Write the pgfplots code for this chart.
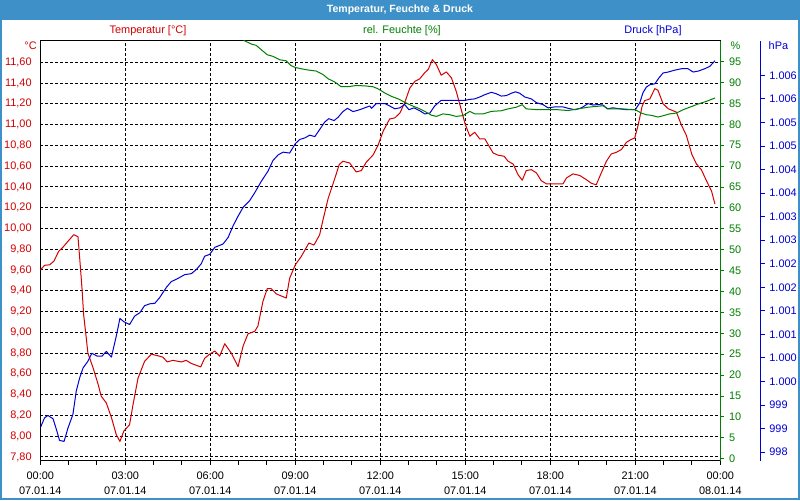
\documentclass[border=0pt]{standalone}
\usepackage{fontspec}
\setmainfont{Liberation Sans}
\usepackage{pgfplots}
\pgfplotsset{compat=1.18}

\definecolor{bar}{RGB}{61,145,200}
\definecolor{tred}{RGB}{210,0,0}
\definecolor{hgreen}{RGB}{0,128,0}
\definecolor{pblue}{RGB}{0,0,215}
\newcommand\lf{\fontsize{8.2}{11.25}\selectfont}

\pgfplotsset{
  base/.style={
    at={(30.225pt,29.475pt)}, anchor=south west,
    width=510pt, height=314.8pt, scale only axis,
    xmin=0, xmax=24,
    every axis plot/.append style={line width=0.75pt, mark=none, line join=round},
    /pgf/number format/assume math mode=true,
  },
  gridline/.style={black, line width=0.75pt, dash pattern=on 2.25pt off 1.5pt},
}

\begin{document}
\begin{tikzpicture}
\path[use as bounding box] (0,0) rectangle (600pt,375pt);
\fill[white] (0,0) rectangle (600pt,375pt);
\fill[bar] (0,360pt) rectangle (600pt,375pt);
\draw[bar, line width=1.5pt] (0.75pt,0.75pt) rectangle (599.25pt,374.25pt);
\node[white, font=\fontsize{7.9}{10}\selectfont\bfseries] at (300pt,367.5pt) {Temperatur, Feuchte \& Druck};

% temperature, grid and time axis
\begin{axis}[base,
  ymin=7.764, ymax=11.805,
  ytick={7.8,8,8.2,8.4,8.6,8.8,9,9.2,9.4,9.6,9.8,10,10.2,10.4,10.6,10.8,11,11.2,11.4,11.6},
  xtick={0,3,...,24},
  minor xtick={1,2,4,5,7,8,10,11,13,14,16,17,19,20,22,23},
  xticklabels={{00:00\\07.01.14},{03:00\\07.01.14},{06:00\\07.01.14},{09:00\\07.01.14},{12:00\\07.01.14},{15:00\\07.01.14},{18:00\\07.01.14},{21:00\\07.01.14},{00:00\\08.01.14}},
  xticklabel style={align=center, font=\lf, text=black, yshift=-1.5pt},
  grid=major, major grid style=gridline,
  axis line style={black, line width=0.75pt},
  tick align=outside, xtick pos=left,
  ytick style={draw=none},
  xtick style={black, line width=0.75pt},
  major tick length=3pt, minor tick length=3pt,
  yticklabel style={text=tred, font=\lf,
    /pgf/number format/.cd, use comma, fixed, fixed zerofill, precision=2},
]
\addplot[tred] coordinates {
(0,9.60) (0.15,9.645) (0.33,9.65) (0.48,9.685) (0.65,9.78) (0.80,9.82) (0.98,9.877) (1.18,9.94) (1.33,9.92) (1.39,9.716)
(1.47,9.43) (1.53,9.17) (1.62,8.95) (1.68,8.80) (1.86,8.66) (2.04,8.50) (2.15,8.385) (2.33,8.32) (2.51,8.18) (2.68,8.016)
(2.81,7.95) (2.95,8.05) (3.15,8.11) (3.27,8.30) (3.45,8.56) (3.68,8.72) (3.92,8.79) (4.21,8.77) (4.33,8.76) (4.48,8.715)
(4.68,8.73) (4.98,8.715) (5.15,8.73) (5.33,8.70) (5.66,8.667) (5.80,8.75) (5.98,8.79) (6.16,8.82) (6.33,8.77) (6.51,8.89)
(6.74,8.80) (6.98,8.67) (7.16,8.87) (7.33,8.985) (7.57,9.01) (7.68,9.06) (7.86,9.30) (8.01,9.42) (8.15,9.42) (8.33,9.37)
(8.68,9.33) (8.80,9.52) (9.00,9.65) (9.21,9.73) (9.48,9.86) (9.66,9.84) (9.86,9.94) (9.98,10.085) (10.16,10.29) (10.40,10.486)
(10.55,10.615) (10.68,10.647) (10.92,10.63) (11.15,10.544) (11.33,10.557) (11.51,10.64) (11.74,10.705) (11.92,10.80) (12.10,10.936) (12.33,11.054)
(12.51,11.064) (12.69,11.11) (12.86,11.21) (13.04,11.35) (13.22,11.417) (13.39,11.44) (13.57,11.50) (13.69,11.53) (13.84,11.625) (13.98,11.577)
(14.15,11.475) (14.33,11.507) (14.51,11.45) (14.68,11.32) (14.84,11.16) (15.00,11.0) (15.16,10.888) (15.33,10.926) (15.51,10.862) (15.69,10.862)
(15.98,10.727) (16.16,10.705) (16.37,10.695) (16.51,10.647) (16.69,10.62) (16.86,10.518) (17.01,10.464) (17.15,10.557) (17.33,10.566) (17.51,10.535)
(17.68,10.46) (17.86,10.43) (18.45,10.43) (18.57,10.486) (18.80,10.525) (19.04,10.51) (19.27,10.47) (19.45,10.435) (19.62,10.42) (19.80,10.535)
(19.98,10.647) (20.15,10.717) (20.33,10.733) (20.51,10.76) (20.69,10.83) (20.84,10.855) (20.98,10.871) (21.10,10.994) (21.24,11.176) (21.33,11.23)
(21.51,11.247) (21.69,11.346) (21.80,11.33) (21.98,11.20) (22.16,11.153) (22.45,11.12) (22.63,10.994) (22.80,10.897) (23.00,10.71) (23.16,10.62)
(23.33,10.566) (23.51,10.46) (23.69,10.36) (23.81,10.236)
};
\end{axis}

% pressure curve
\begin{axis}[base, ymin=997.82, ymax=1006.73, axis lines=none]
\addplot[pblue] coordinates {
(0.01,998.53) (0.15,998.73) (0.27,998.78) (0.45,998.71) (0.57,998.48) (0.68,998.25) (0.84,998.23) (0.98,998.52) (1.15,998.80) (1.27,999.30)
(1.39,999.58) (1.51,999.79) (1.68,999.93) (1.82,1000.10) (2.01,1000.04) (2.18,1000.04) (2.33,1000.14) (2.51,1000.02) (2.68,1000.46) (2.81,1000.84)
(2.95,1000.77) (3.15,1000.71) (3.33,1000.89) (3.51,1000.96) (3.68,1001.11) (3.86,1001.15) (4.04,1001.16) (4.21,1001.28) (4.45,1001.50) (4.62,1001.62)
(4.86,1001.69) (5.10,1001.77) (5.33,1001.79) (5.51,1001.88) (5.68,1002.0) (5.80,1002.16) (5.98,1002.20) (6.16,1002.35) (6.45,1002.42) (6.63,1002.56)
(6.80,1002.80) (6.98,1003.01) (7.16,1003.20) (7.39,1003.34) (7.57,1003.51) (7.80,1003.75) (8.04,1003.97) (8.21,1004.19) (8.39,1004.31) (8.57,1004.37)
(8.80,1004.35) (9.0,1004.55) (9.16,1004.64) (9.33,1004.67) (9.51,1004.73) (9.69,1004.70) (9.86,1004.85) (10.04,1005.01) (10.18,1005.08) (10.37,1005.04)
(10.51,1005.11) (10.68,1005.23) (10.84,1005.30) (11.04,1005.23) (11.27,1005.27) (11.45,1005.31) (11.63,1005.35) (11.69,1005.30) (11.86,1005.40) (12.16,1005.40)
(12.33,1005.35) (12.51,1005.29) (12.69,1005.31) (12.86,1005.38) (13.01,1005.27) (13.19,1005.31) (13.39,1005.25) (13.57,1005.18) (13.75,1005.20) (13.92,1005.35)
(14.15,1005.47) (15.0,1005.47) (15.16,1005.49) (15.33,1005.50) (15.51,1005.54) (15.69,1005.59) (15.92,1005.64) (16.09,1005.61) (16.27,1005.56) (16.45,1005.57)
(16.62,1005.62) (16.77,1005.65) (16.92,1005.62) (17.10,1005.54) (17.33,1005.50) (17.51,1005.42) (17.74,1005.38) (17.92,1005.31) (18.16,1005.33) (18.45,1005.33)
(18.63,1005.30) (18.87,1005.27) (19.10,1005.31) (19.33,1005.40) (19.51,1005.37) (19.68,1005.38) (19.86,1005.37) (20.01,1005.29) (20.21,1005.31) (20.45,1005.29)
(20.69,1005.27) (21.0,1005.27) (21.16,1005.42) (21.27,1005.63) (21.39,1005.75) (21.51,1005.80) (21.69,1005.82) (21.84,1005.95) (21.98,1006.05) (22.16,1006.07)
(22.39,1006.11) (22.63,1006.14) (22.86,1006.14) (23.04,1006.07) (23.22,1006.09) (23.45,1006.14) (23.63,1006.19) (23.81,1006.31)
};
\end{axis}

% humidity curve and green axis
\begin{axis}[base, ymin=-0.48, ymax=99.95,
  axis x line=none, axis y line*=right,
  y axis line style={hgreen, line width=0.75pt},
  ytick={0,5,...,95}, tick align=outside,
  ytick style={hgreen, line width=0.75pt}, major tick length=3pt,
  yticklabel style={text=hgreen, font=\lf},
]
\addplot[hgreen] coordinates {
(7.0,101.5) (7.21,100) (7.45,99.2) (7.62,98.9) (7.80,97.85) (8.01,96.65) (8.21,96.27) (8.45,95.45) (8.68,95.2) (8.84,94.1)
(9.0,93.6) (9.21,93.3) (9.45,93.0) (9.74,92.75) (9.98,91.9) (10.16,90.9) (10.40,90.1) (10.62,89.0) (10.86,89.0) (11.15,89.3)
(11.45,89.2) (11.74,89.0) (11.92,88.5) (12.16,87.5) (12.39,86.7) (12.63,86.1) (12.86,85.3) (13.10,84.5) (13.33,83.9) (13.57,83.1)
(13.80,82.2) (13.98,81.9) (14.21,82.5) (14.45,82.3) (14.68,81.9) (14.92,82.1) (15.16,83.1) (15.33,82.5) (15.63,82.5) (15.92,83.1)
(16.27,83.25) (16.51,83.7) (16.80,84.1) (17.01,84.7) (17.15,83.7) (17.56,83.5) (18.27,83.5) (18.63,83.3) (18.98,83.7) (19.33,84.1)
(19.86,84.45) (20.04,83.7) (20.51,83.7) (21.0,83.5) (21.21,82.7) (21.39,82.3) (21.57,82.15) (21.80,81.75) (21.98,82.05) (22.21,82.5)
(22.45,82.7) (22.69,83.5) (22.92,84.1) (23.21,84.85) (23.51,85.5) (23.81,86.3)
};
\end{axis}

% pressure ruler, set off to the right
\begin{axis}[at={(570.5pt,29.475pt)}, anchor=south east,
  width=510pt, height=314.8pt, scale only axis,
  xmin=0, xmax=24, ymin=997.82, ymax=1006.73,
  axis x line=none, axis y line*=right,
  y axis line style={pblue, line width=0.75pt},
  ytick={998,998.5,...,1006},
  yticklabels={998,999,999,1.000,1.000,1.001,1.001,1.002,1.002,1.003,1.003,1.004,1.004,1.005,1.005,1.006,1.006},
  tick align=outside, ytick style={pblue, line width=0.75pt}, major tick length=3pt,
  yticklabel style={text=pblue, font=\lf},
]
\addplot[draw=none] coordinates {(0,1000)};
\end{axis}

\node[tred, font=\lf] at (111pt,351.75pt) {Temperatur [°C]};
\node[hgreen, font=\lf] at (301.5pt,351.75pt) {rel. Feuchte [\%]};
\node[pblue, font=\lf] at (489.75pt,351.75pt) {Druck [hPa]};
\node[tred, font=\lf] at (22.9pt,340.5pt) {°C};
\node[hgreen, font=\lf, anchor=west] at (544.5pt,340.5pt) {\%};
\node[pblue, font=\lf, anchor=west] at (573pt,340.5pt) {hPa};
\end{tikzpicture}
\end{document}
